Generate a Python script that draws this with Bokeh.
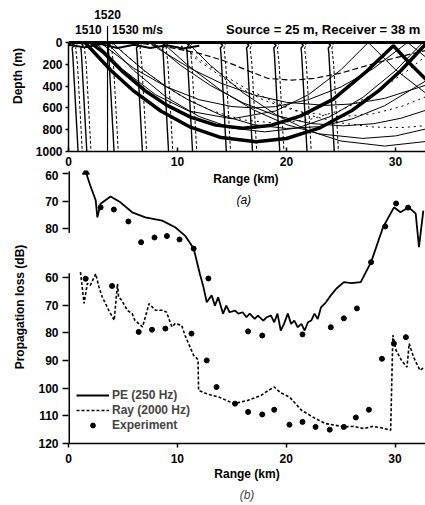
import numpy as np
from bokeh.plotting import figure
from bokeh.models import Range1d, FixedTicker, Label, Span, Legend, LegendItem, Title
from bokeh.layouts import column
from bokeh.embed import file_html
from bokeh.resources import INLINE

FONT = "Liberation Sans"

# ---------------- panel (a): sound-speed profiles and rays ----------------
range_ticks = [0, 10, 20, 30]
depth_ticks = [0, 200, 400, 600, 800, 1000]

prof_depth = [0, 25, 50, 100, 200, 300, 400, 600, 800, 1000]
prof_speed_solid = [1512.0, 1515.0, 1513.0, 1513.5, 1514.0, 1514.5, 1515.0, 1516.0, 1517.0, 1518.0]
prof_speed_dashed = [1515.5, 1517.5, 1516.0, 1516.5, 1517.5, 1518.0, 1518.5, 1519.5, 1520.5, 1521.5]
prof_ranges = [0.0, 0.8, 3.3, 5.9, 8.3, 10.5, 13.6, 16.0, 18.5, 21.0, 23.5]
speed_ref = 1510.0
km_per_ms = 0.11
scale_1520_range = 3.58

ray_r = [
    [2.0, 3.2, 5.0, 7.0, 9.0, 11.2, 13.5, 16.0, 18.5, 21.3, 24.3, 27.4, 29.8, 31.3, 32.8],
    [1.5, 3.9, 6.0, 8.5, 11.2, 14.0, 17.2, 20.0, 23.0, 26.0, 28.5, 30.5, 32.8],
    [2.5, 5, 8, 11, 15, 19, 22, 25, 27.5, 30, 32.8],
    [3.5, 6, 9, 12, 15, 18, 21, 24, 27, 30, 32.5],
    [4, 7, 10, 13, 16, 19, 22, 25, 28, 31, 32.8],
    [2.9, 6, 9, 12, 15, 17, 19, 22, 25, 28, 31.1, 32.8],
    [6, 9, 12, 14.2, 16.5, 18.3, 20.5, 22.5, 25, 27.4, 30, 32.8],
    [4, 5, 7, 9, 11, 14, 17, 20, 23, 26, 29, 32.8],
    [7.4, 8.2, 11.2, 14, 17, 20, 23.6, 26, 29, 32.8],
    [9.9, 10.3, 13, 16, 19, 22.2, 25, 28, 30.5, 32.8],
    [7.7, 10.3, 13, 16, 19, 22.2, 25.2, 28, 30.5, 32.8],
    [8.6, 11, 14, 17, 20, 23, 27, 30, 32.8],
    [9.9, 12, 15, 18, 21, 25, 28, 30.5, 32.8],
    [10.9, 13, 16, 19, 22, 25, 29, 32.8],
    [0, 1.5, 3, 4.5, 6, 7.5, 9, 10.5, 12],
]
ray_d = [
    [0, 90, 270, 440, 575, 685, 758, 786, 762, 673, 520, 260, 30, 190, 340],
    [0, 257, 447, 631, 777, 872, 910, 881, 786, 624, 439, 257, 12],
    [0, 250, 480, 628, 700, 628, 480, 250, 0, 250, 467],
    [0, 258, 504, 680, 785, 820, 785, 680, 504, 258, 0],
    [0, 265, 473, 621, 710, 740, 710, 621, 473, 265, 124],
    [0, 237, 408, 525, 588, 600, 588, 525, 408, 237, 0, 136],
    [0, 40, 100, 165, 260, 330, 345, 330, 280, 211, 140, 73],
    [0, 93, 262, 407, 528, 667, 754, 789, 772, 702, 580, 351],
    [0, 55, 239, 374, 481, 549, 577, 564, 513, 391],
    [0, 28, 224, 407, 553, 670, 738, 776, 781, 763],
    [0, 211, 393, 553, 669, 743, 765, 745, 695, 621],
    [0, 214, 441, 620, 753, 838, 880, 857, 793],
    [0, 173, 380, 533, 632, 680, 653, 589, 497],
    [0, 208, 460, 660, 808, 904, 950, 908],
    [20, 45, 15, 50, 20, 50, 25, 55, 30],
]
ray_width = [3.5, 3.5, 1, 1, 1, 1, 1.2, 1, 1, 1, 1, 1, 1, 1, 2]
ray_dash = ["solid", "solid", "solid", "solid", "dotted", "solid", "6 3", "solid",
            "solid", "dotted", "solid", "solid", "dotted", "solid", "solid"]

# ---------------- panel (b): propagation loss ----------------
pe_range = [1.6, 2.0, 2.5, 2.65, 2.95, 3.86, 4.77, 5.85, 7.06, 8.6, 9.8, 10.7, 11.5, 12.06,
            12.4, 12.7, 13.15, 13.45, 13.75, 14.2, 14.5, 14.8, 15.3, 15.6, 16.0, 16.35,
            16.65, 17.1, 17.4, 17.9, 18.2, 18.6, 18.9, 19.2, 19.5, 19.8, 20.15, 20.45,
            20.75, 21.05, 21.4, 21.7, 22.0, 22.3, 22.6, 22.9, 23.2, 23.65, 24.1, 24.6,
            25.3, 26.0, 26.85, 27.8, 28.9, 29.9, 30.5, 31.26, 31.9, 32.2, 32.6]
pe_loss = [59.5, 64.3, 69.7, 75.8, 70.9, 68.3, 70.4, 74.0, 75.8, 77.0, 79.4, 82.4, 87.1, 96.1,
           101.0, 106.5, 104.0, 107.7, 104.7, 110.6, 107.7, 110.1, 109.5, 110.6, 110.1, 111.9,
           110.6, 112.5, 111.3, 113.1, 111.9, 111.3, 113.7, 110.6, 116.7, 114.3, 110.6, 114.3,
           113.1, 115.5, 114.3, 116.7, 113.7, 113.1, 110.6, 112.5, 108.3, 106.5, 104.0, 101.6,
           99.2, 99.6, 99.2, 92.0, 79.4, 72.2, 74.0, 72.2, 74.5, 86.6, 73.4]

ray_range = [1.1, 1.43, 1.73, 2.0, 2.5, 2.8, 3.1, 3.7, 4.2, 4.5, 4.6, 4.9, 5.4, 5.85, 6.1,
             6.8, 7.4, 8.0, 8.6, 9.0, 9.5, 9.8, 10.4, 10.7, 11.5, 11.9, 11.95, 12.2, 12.8,
             13.8, 15.2, 16.5, 17.7, 18.3, 18.9, 19.5, 20.3, 21.4, 22.7, 23.6, 24.5, 25.3,
             26.2, 27.1, 28.0, 28.7, 29.6, 29.8, 30.1, 30.6, 31.1, 31.3, 31.7, 32.3, 32.7]
ray_loss = [58.1, 69.4, 62.2, 62.9, 58.7, 63.5, 67.1, 71.9, 75.5, 62.3, 67.1, 68.3, 71.9, 73.1,
            75.5, 77.9, 69.5, 71.9, 71.9, 72.5, 77.9, 76.7, 77.3, 80.9, 88.2, 89.7, 100.8,
            101.2, 102.2, 103.2, 105.6, 104.4, 102.6, 101.0, 99.6, 101.7, 103.2, 108.0, 111.0,
            112.8, 113.4, 114.0, 113.8, 114.6, 113.8, 114.3, 115.2, 80.9, 86.4, 90.0, 92.4,
            83.9, 88.8, 93.6, 92.4]

exp_pe_range = [2.95, 4.17, 5.5, 6.67, 7.9, 9.04, 10.2, 11.5, 12.85, 16.5, 17.8, 21.5, 24.1,
                25.3, 26.5, 27.8, 29.1, 30.1, 31.2]
exp_pe_loss = [72.2, 73.0, 77.3, 84.8, 83.1, 82.6, 83.8, 87.1, 97.9, 117.0, 118.5, 118.1, 115.5,
               112.3, 108.7, 92.0, 79.1, 70.8, 72.3]

exp_ray_range = [1.58, 4.0, 6.45, 7.67, 8.9, 11.3, 12.7, 13.6, 15.3, 16.5, 17.8, 18.9, 20.3,
                 21.5, 22.7, 24.0, 25.3, 26.4, 27.6, 28.8, 29.9, 31.0]
exp_ray_loss = [60.5, 63.1, 79.7, 78.9, 78.5, 80.3, 90.0, 99.6, 105.6, 108.6, 109.5, 107.8, 113.2,
                112.2, 114.0, 115.0, 114.0, 110.6, 107.8, 89.4, 83.9, 81.6]

loss_ticks_lower = [60, 70, 80, 90, 100, 110, 120]
loss_ticks_upper = [60, 70, 80]
PE_OFFSET = 37.5   # the PE curve is plotted against the upper (offset) loss scale


def style_axis(ax):
    ax.major_label_text_font = FONT
    ax.major_label_text_font_size = "12px"
    ax.major_label_text_font_style = "bold"
    ax.major_label_text_color = "black"
    ax.axis_label_text_font = FONT
    ax.axis_label_text_font_size = "12px"
    ax.axis_label_text_font_style = "bold"
    ax.axis_label_text_color = "black"
    ax.axis_line_width = 1.5
    ax.axis_line_color = "black"
    ax.major_tick_line_width = 1.5
    ax.major_tick_line_color = "black"
    ax.minor_tick_line_color = None


def txt(x, y, text, align="center", size="12px", style="bold"):
    return Label(x=x, y=y, text=text, text_align=align, text_baseline="middle",
                 text_font=FONT, text_font_size=size, text_font_style=style,
                 text_color="black")


# ---------------- figure (a) ----------------
# frame reaches the top of the page so the header texts stay inside it
pa = figure(width=425, height=170, x_range=Range1d(0, 32.75), y_range=Range1d(1000, -385),
            output_backend="svg", toolbar_location=None,
            min_border_left=68, min_border_right=0, min_border_top=0, min_border_bottom=19)
pa.outline_line_color = None
pa.grid.visible = False
pa.background_fill_color = "white"
pa.border_fill_color = "white"
pa.xaxis.ticker = FixedTicker(ticks=range_ticks)
pa.yaxis.ticker = FixedTicker(ticks=depth_ticks)
pa.yaxis.bounds = (depth_ticks[0], depth_ticks[-1])
pa.yaxis.axis_label = "Depth (m)"
for ax in pa.xaxis + pa.yaxis:
    style_axis(ax)
pa.xaxis.major_tick_out = 0
pa.xaxis.major_tick_in = 4
pa.xaxis.major_label_standoff = 5
pa.yaxis.major_tick_out = 3
pa.yaxis.major_tick_in = 0
pa.yaxis.major_label_standoff = 3
pa.yaxis.axis_label_standoff = 8

# sound-speed profiles
depth_arr = np.array(prof_depth)
for r0 in prof_ranges:
    xs = r0 + (np.array(prof_speed_solid) - speed_ref) * km_per_ms
    pa.line(xs, depth_arr, line_color="black", line_width=1.4)
    xs2 = r0 + (np.array(prof_speed_dashed) - speed_ref) * km_per_ms
    pa.line(xs2, depth_arr, line_color="black", line_width=1.0, line_dash="3 2")
pa.line([scale_1520_range, scale_1520_range], [-150, prof_depth[-1]],
        line_color="black", line_width=1.2)

# rays
for rr, dd, w, dash in zip(ray_r, ray_d, ray_width, ray_dash):
    pa.line(rr, dd, line_color="black", line_width=w, line_dash=dash)

pa.add_layout(Span(location=0, dimension="width", line_color="black", line_width=3))

pa.add_layout(txt(scale_1520_range, -257, "1520"))
pa.add_layout(txt(1.83, -119, "1510"))
pa.add_layout(txt(4.0, -119, "1530 m/s", align="left"))
pa.add_layout(txt(14.45, -119, "Source = 25 m, Receiver = 38 m", align="left", size="13px"))

# ---------------- figure (b) ----------------
pb = figure(width=425, height=335, x_range=Range1d(0, 32.8), y_range=Range1d(120, 21.4),
            output_backend="svg", toolbar_location=None,
            min_border_left=66, min_border_right=0, min_border_top=0, min_border_bottom=62)
pb.outline_line_color = None
pb.grid.visible = False
pb.background_fill_color = "white"
pb.border_fill_color = "white"

upper_pos = [v - PE_OFFSET for v in loss_ticks_upper]
pb.yaxis.ticker = FixedTicker(ticks=[float(v) for v in upper_pos + loss_ticks_lower])
pb.yaxis.major_label_overrides = {float(p): str(v) for p, v in zip(upper_pos, loss_ticks_upper)}
pb.yaxis.axis_label = "Propagation loss (dB)"
pb.xaxis.ticker = FixedTicker(ticks=range_ticks)
pb.xaxis.axis_label = "Range (km)"
for ax in pb.xaxis + pb.yaxis:
    style_axis(ax)
pb.yaxis.axis_line_color = None
pb.yaxis.major_tick_out = 6
pb.yaxis.major_tick_in = 0
pb.yaxis.major_label_standoff = 4
pb.yaxis.axis_label_standoff = 8
pb.xaxis.major_tick_out = 4
pb.xaxis.major_tick_in = 0
pb.xaxis.major_label_standoff = 6
pb.xaxis.axis_label_standoff = 1

# split left spine (upper PE scale, lower ray scale)
x0 = pb.x_range.start
pb.segment(x0=[x0, x0], x1=[x0, x0],
           y0=[min(upper_pos) - 0.8, min(loss_ticks_lower) - 1.5],
           y1=[max(upper_pos) + 1.5, max(loss_ticks_lower)],
           line_color="black", line_width=3)

pe_y = np.array(pe_loss) - PE_OFFSET
pe_line = pb.line(pe_range, pe_y, line_color="black", line_width=1.8)
pb.scatter([pe_range[0]], [pe_y[0]], marker="triangle", size=7, color="black")
ray_line = pb.line(ray_range, ray_loss, line_color="black", line_width=1.6, line_dash="3 2")
exp1 = pb.scatter(exp_pe_range, np.array(exp_pe_loss) - PE_OFFSET, size=5, color="black")
exp2 = pb.scatter(exp_ray_range, exp_ray_loss, size=5, color="black")

legend = Legend(items=[LegendItem(label="PE (250 Hz)", renderers=[pe_line]),
                       LegendItem(label="Ray (2000 Hz)", renderers=[ray_line]),
                       LegendItem(label="Experiment", renderers=[exp2])],
                location=(8, 11), background_fill_alpha=0, border_line_color=None,
                padding=0, margin=0, spacing=1, glyph_width=33, glyph_height=12,
                label_height=12, label_standoff=3, label_text_font=FONT,
                label_text_font_size="12px", label_text_font_style="bold")
pb.add_layout(legend)

# panel (a) axis title / caption sit in the band above panel (b)
pb.add_layout(txt(16.3, 24.3, "Range (km)"))
pb.add_layout(txt(16.1, 32.2, "(a)", style="italic"))
pb.add_layout(Title(text="(b)", align="center", text_font=FONT, text_font_size="12px",
                    text_font_style="italic", standoff=4), "below")

layout = column(pa, pb)
open("out.html", "w").write(file_html(layout, INLINE))
